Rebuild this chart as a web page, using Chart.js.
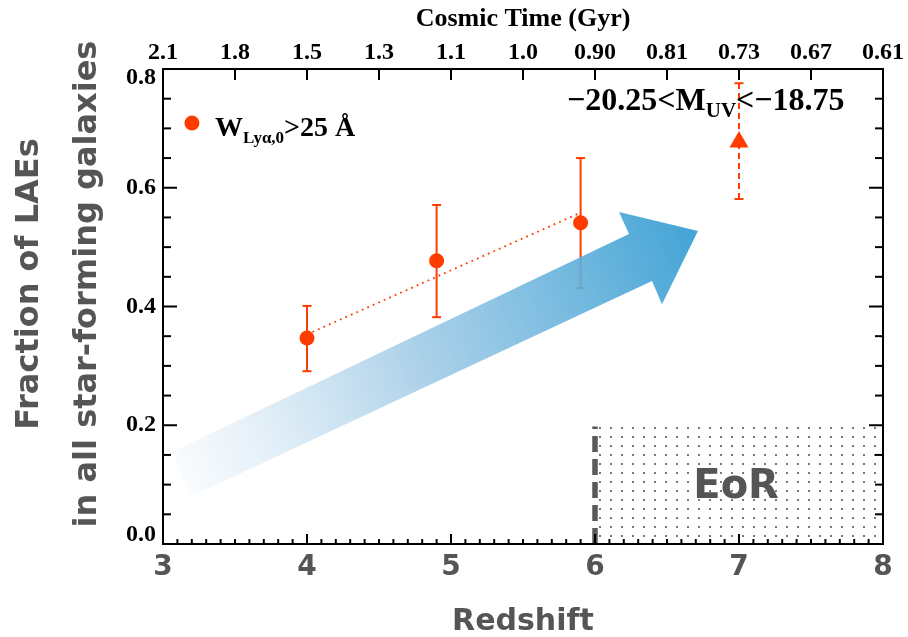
<!DOCTYPE html>
<html>
<head>
<meta charset="utf-8">
<script src="https://cdn.jsdelivr.net/npm/chart.js@4.4.1/dist/chart.umd.min.js"></script>
<style>
html, body { margin: 0; padding: 0; background: #fff; }
#wrap { width: 908px; height: 637px; }
</style>
</head>
<body>
<div id="wrap"><canvas id="laeChart" width="908" height="637"></canvas></div>
<script>
// LAE fraction, W(Lya,0) > 25 A
const redshift = [4.0, 4.9, 5.9];
const laeFraction = [0.347, 0.477, 0.541];
const laeErrHigh = [0.401, 0.571, 0.650];
const laeErrLow = [0.291, 0.382, 0.431];

// dotted trend line (straight, from z=4 to z=5.9)
const trendRedshift = [4.0, 5.9];
const trendFraction = [0.353, 0.558];

// the z ~ 7 point (triangle)
const limitRedshift = [7.0];
const limitFraction = [0.677];
const limitErrHigh = [0.776];
const limitErrLow = [0.581];

// axis labels
const cosmicTimeTicks = ['2.1', '1.8', '1.5', '1.3', '1.1', '1.0', '0.90', '0.81', '0.73', '0.67', '0.61'];
const fractionTicks = [0.0, 0.2, 0.4, 0.6, 0.8];

const RED = 'rgb(255,59,0)';
const GRAY = '#555555';
const SERIF = '"Liberation Serif", "DejaVu Serif", serif';
const SANS = '"DejaVu Sans", sans-serif';

// arrow outline in data units (redshift, fraction)
const arrowShape = [
    [3.0625, 0.155], [6.236, 0.522], [6.167, 0.559], [6.715, 0.527],
    [6.465, 0.404], [6.396, 0.443], [3.1875, 0.079]
];

function line(ctx, x1, y1, x2, y2) {
    ctx.beginPath();
    ctx.moveTo(x1, y1);
    ctx.lineTo(x2, y2);
    ctx.stroke();
}

function errorBars(ctx, xs, ys, zs, lo, hi, dashed) {
    ctx.save();
    ctx.strokeStyle = RED;
    ctx.lineWidth = 2;
    for (let i = 0; i < zs.length; i++) {
        const px = xs.getPixelForValue(zs[i]);
        const pLo = ys.getPixelForValue(lo[i]);
        const pHi = ys.getPixelForValue(hi[i]);
        ctx.setLineDash(dashed ? [6, 4] : []);
        line(ctx, px, pLo, px, pHi);
        ctx.setLineDash([]);
        line(ctx, px - 4.5, pLo, px + 4.5, pLo);
        line(ctx, px - 4.5, pHi, px + 4.5, pHi);
    }
    ctx.restore();
}

const decorPlugin = {
    id: 'decor',
    beforeDatasetsDraw(chart) {
        const ctx = chart.ctx;
        const xs = chart.scales.x, ys = chart.scales.y;
        const bottom = chart.chartArea.bottom;

        // EoR dotted box
        const pat = document.createElement('canvas');
        pat.width = 11; pat.height = 9;
        const pctx = pat.getContext('2d');
        pctx.fillStyle = '#777';
        pctx.fillRect(5, 4, 2, 2);
        const x6 = xs.getPixelForValue(6), x8 = xs.getPixelForValue(8);
        const yTop = ys.getPixelForValue(0.205);
        ctx.save();
        ctx.fillStyle = ctx.createPattern(pat, 'repeat');
        ctx.fillRect(x6 + 4, yTop, x8 - x6 - 4, bottom - yTop);
        ctx.strokeStyle = '#5a5a5a';
        ctx.lineWidth = 5.5;
        ctx.setLineDash([16, 7]);
        line(ctx, x6, bottom, x6, ys.getPixelForValue(0.198));
        ctx.restore();

        errorBars(ctx, xs, ys, redshift, laeErrLow, laeErrHigh, false);
        errorBars(ctx, xs, ys, limitRedshift, limitErrLow, limitErrHigh, true);
    },
    afterDatasetsDraw(chart) {
        const ctx = chart.ctx;
        const xs = chart.scales.x, ys = chart.scales.y;
        const {left, right, top, bottom} = chart.chartArea;

        // big gradient arrow
        const pts = arrowShape.map(p => [xs.getPixelForValue(p[0]), ys.getPixelForValue(p[1])]);
        const g = ctx.createLinearGradient(pts[0][0], pts[0][1], pts[3][0], pts[3][1]);
        g.addColorStop(0, 'rgba(245,249,253,0.6)');
        g.addColorStop(0.45, 'rgba(160,202,230,0.85)');
        g.addColorStop(1, 'rgba(52,157,211,0.93)');
        ctx.save();
        ctx.fillStyle = g;
        ctx.beginPath();
        pts.forEach((p, i) => i ? ctx.lineTo(p[0], p[1]) : ctx.moveTo(p[0], p[1]));
        ctx.closePath();
        ctx.fill();
        ctx.restore();

        // frame
        ctx.save();
        ctx.strokeStyle = '#000';
        ctx.lineWidth = 2;
        ctx.strokeRect(left, top, right - left, bottom - top);

        // inward ticks
        for (let k = 30; k <= 80; k++) {
            const px = xs.getPixelForValue(k / 10);
            line(ctx, px, bottom, px, bottom - (k % 10 === 0 ? 10 : 5));
        }
        for (let k = 7; k <= 15; k++) {
            const px = xs.getPixelForValue(k / 2);
            line(ctx, px, top, px, top + 11);
        }
        for (let k = 0; k <= 16; k++) {
            const py = ys.getPixelForValue(k * 0.05);
            const len = k % 4 === 0 ? 14 : 8;
            line(ctx, left, py, left + len, py);
            line(ctx, right, py, right - len, py);
        }

        // y tick labels
        ctx.fillStyle = '#000';
        ctx.font = 'bold 24px ' + SERIF;
        ctx.textAlign = 'right';
        ctx.textBaseline = 'middle';
        fractionTicks.forEach(v => {
            let py = ys.getPixelForValue(v);
            py = Math.min(Math.max(py, top + 9), bottom - 9);
            ctx.fillText(v.toFixed(1), left - 7, py);
        });

        // legend
        ctx.textAlign = 'left';
        ctx.textBaseline = 'alphabetic';
        ctx.fillStyle = RED;
        ctx.beginPath();
        ctx.arc(xs.getPixelForValue(3.201), ys.getPixelForValue(0.709), 7.5, 0, Math.PI * 2);
        ctx.fill();
        ctx.fillStyle = '#000';
        let tx = xs.getPixelForValue(3.361);
        const ty = ys.getPixelForValue(0.688);
        ctx.font = 'bold 28px ' + SERIF;
        ctx.fillText('W', tx, ty);
        tx += ctx.measureText('W').width;
        ctx.font = 'bold 17px ' + SERIF;
        ctx.fillText('Ly\u03b1,0', tx, ty + 7);
        tx += ctx.measureText('Ly\u03b1,0').width;
        ctx.font = 'bold 28px ' + SERIF;
        ctx.fillText('>25 \u00c5', tx, ty);

        // magnitude range
        tx = xs.getPixelForValue(5.806);
        const my = ys.getPixelForValue(0.731);
        ctx.font = 'bold 32px ' + SERIF;
        ctx.fillText('\u221220.25<M', tx, my);
        tx += ctx.measureText('\u221220.25<M').width;
        ctx.font = 'bold 21px ' + SERIF;
        ctx.fillText('UV', tx, my + 7);
        tx += ctx.measureText('UV').width;
        ctx.font = 'bold 32px ' + SERIF;
        ctx.fillText('<\u221218.75', tx, my);

        // EoR
        ctx.fillStyle = GRAY;
        ctx.font = 'bold 40px ' + SANS;
        ctx.textAlign = 'center';
        ctx.textBaseline = 'middle';
        ctx.fillText('EoR', xs.getPixelForValue(6.98), ys.getPixelForValue(0.095));

        // y axis title, two lines
        ctx.font = 'bold 32px ' + SANS;
        ctx.translate(30, 284);
        ctx.rotate(-Math.PI / 2);
        ctx.fillText('Fraction of LAEs', 0, 0);
        ctx.fillText('in all star-forming galaxies', 0, 58);
        ctx.restore();
    }
};

const ctx = document.getElementById('laeChart').getContext('2d');
const laeChart = new Chart(ctx, {
    type: 'scatter',
    data: {
        datasets: [
            {
                data: trendRedshift.map((z, i) => ({x: z, y: trendFraction[i]})),
                showLine: true,
                borderColor: RED,
                borderWidth: 1.8,
                borderDash: [1.8, 4.2],
                pointRadius: 0
            },
            {
                data: redshift.map((z, i) => ({x: z, y: laeFraction[i]})),
                backgroundColor: RED,
                borderWidth: 0,
                pointRadius: 7.5
            },
            {
                data: limitRedshift.map((z, i) => ({x: z, y: limitFraction[i]})),
                pointStyle: 'triangle',
                backgroundColor: RED,
                borderWidth: 0,
                pointRadius: 11
            }
        ]
    },
    options: {
        responsive: false,
        animation: false,
        layout: { padding: { right: 25 } },
        plugins: { legend: { display: false }, tooltip: { enabled: false } },
        scales: {
            x: {
                type: 'linear',
                position: 'bottom',
                min: 3,
                max: 8,
                grid: { display: false, drawTicks: false },
                border: { display: false },
                ticks: {
                    stepSize: 1,
                    maxRotation: 0,
                    autoSkip: false,
                    padding: 7,
                    color: GRAY,
                    font: { family: SANS, size: 28, weight: 'bold' }
                },
                title: {
                    display: true,
                    text: 'Redshift',
                    color: GRAY,
                    padding: 0,
                    font: { family: SANS, size: 30, weight: 'bold', lineHeight: 1 }
                },
                afterFit(scale) { scale.height = 93; }
            },
            x2: {
                type: 'linear',
                position: 'top',
                min: 3,
                max: 8,
                grid: { display: false, drawTicks: false },
                border: { display: false },
                ticks: {
                    stepSize: 0.5,
                    maxRotation: 0,
                    autoSkip: false,
                    padding: 2,
                    color: '#000',
                    font: { family: SERIF, size: 24, weight: 'bold' },
                    callback: (v, i) => cosmicTimeTicks[i]
                },
                title: {
                    display: true,
                    text: 'Cosmic Time (Gyr)',
                    color: '#000',
                    padding: { top: 4, bottom: 0 },
                    font: { family: SERIF, size: 26, weight: 'bold' }
                },
                afterFit(scale) { scale.height = 69; }
            },
            y: {
                type: 'linear',
                min: 0,
                max: 0.8,
                grid: { display: false, drawTicks: false },
                border: { display: false },
                ticks: { display: false },
                afterFit(scale) { scale.width = 163; }
            }
        }
    },
    plugins: [decorPlugin]
});
</script>
</body>
</html>
